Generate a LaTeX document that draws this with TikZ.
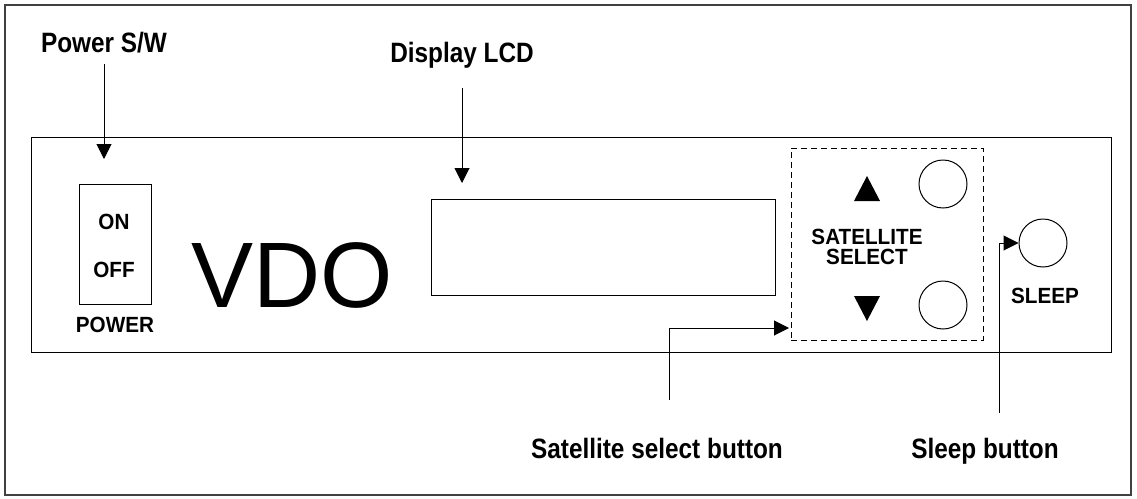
\documentclass[tikz,border=0pt]{standalone}
\usepackage{fontspec}
\setmainfont{Liberation Sans}
\newfontfamily\lblfont[FakeStretch=0.87]{Liberation Sans}
\newfontfamily\panelfont[FakeStretch=0.94]{Liberation Sans}
\usetikzlibrary{arrows.meta}
\tikzset{
  callout/.style={font=\lblfont\fontsize{28}{30}\selectfont\bfseries,inner sep=0pt,anchor=base},
  paneltext/.style={font=\panelfont\fontsize{22}{20}\selectfont\bfseries,inner sep=0pt,align=center},
  outline/.style={draw,line width=1pt,inner sep=0pt},
  knob/.style={circle,draw,line width=1pt,minimum size=48pt,inner sep=0pt},
  groupbox/.style={draw,dash pattern=on 6pt off 4pt,line width=1pt,inner sep=0pt},
  arrow/.style={-{Triangle[length=15pt,width=15pt]},line width=1pt}
}

\begin{document}
\begin{tikzpicture}[x=1pt,y=-1pt]
    \useasboundingbox (0,0) rectangle (1137,498);
    \draw[black!75,line width=1.3pt] (5,5) rectangle (1131,495);
    \draw[outline] (31,137) rectangle (1111,352);

    % power switch
    \node[outline,minimum width=72pt,minimum height=120pt] (pwsw) at (115,244) {};
    \node[paneltext,anchor=base] (pwon) at (114,229) {ON};
    \node[paneltext,anchor=base] (pwoff) at (114,277) {OFF};
    \node[paneltext,anchor=base] (pwname) at (115,332) {POWER};
    \node[anchor=base,inner sep=0pt,font=\fontsize{93}{93}\selectfont] (brand) at (292,307) {VDO};

    % display and buttons
    \node[outline,minimum width=344pt,minimum height=96pt] (lcd) at (603,247) {};
    \node[groupbox,minimum width=192pt,minimum height=192pt] (satbox) at (887,244) {};
    \fill (854,201) -- (880,201) -- (867,176) -- cycle;
    \fill (854,296) -- (880,296) -- (867,321) -- cycle;
    \node[paneltext] (satname) at (867,247) {SATELLITE\\SELECT};
    \node[knob] (upbtn) at (943,184) {};
    \node[knob] (dnbtn) at (943,305) {};
    \node[knob] (slpbtn) at (1043,243) {};
    \node[paneltext,anchor=base] (slpname) at (1045,303) {SLEEP};

    % callouts
    \node[callout] (pwlbl) at (104,52) {Power S/W};
    \coordinate (pwtip) at (104,159);
    \draw[arrow,shorten <=12pt] (pwlbl.base) -- (pwtip);

    \node[callout] (lcdlbl) at (462,62) {Display LCD};
    \coordinate (lcdtip) at (462,183);
    \draw[arrow,shorten <=26pt] (lcdlbl.base) -- (lcdtip);

    \node[callout] (satlbl) at (657,458) {Satellite select button};
    \coordinate (satfoot) at (669,400);
    \coordinate (sattip) at (789,328);
    \draw[arrow] (satfoot) |- (sattip);

    \node[callout] (slplbl) at (985,458) {Sleep button};
    \coordinate (slpfoot) at (999,413);
    \draw[arrow] (slpfoot) |- (slpbtn.west);
  \end{tikzpicture}
\end{document}
